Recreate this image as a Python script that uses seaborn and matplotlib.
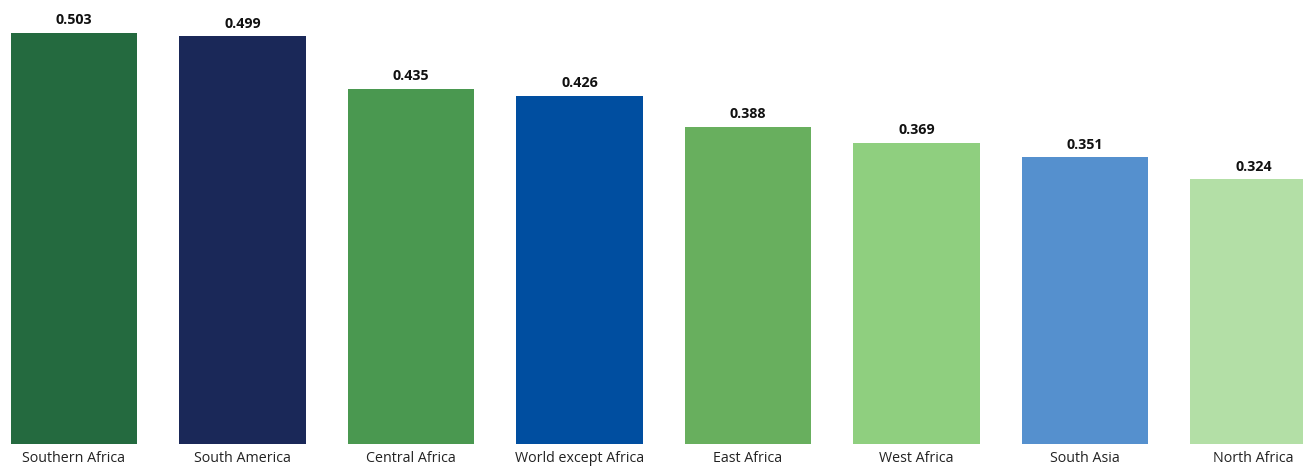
import matplotlib
matplotlib.use("Agg")
import matplotlib.pyplot as plt
import seaborn as sns
import pandas as pd

categories = ["Southern Africa", "South America", "Central Africa", "World except Africa",
              "East Africa", "West Africa", "South Asia", "North Africa"]
values = [0.503, 0.499, 0.435, 0.426, 0.388, 0.369, 0.351, 0.324]
colors = ["#246A3F", "#1A2858", "#4A9850", "#004EA0", "#68AF5E", "#8FCF7F", "#5590CE", "#B3DFA6"]

sns.set_theme(style="white")
plt.rcParams['font.family'] = ['Open Sans', 'DejaVu Sans']

df = pd.DataFrame({"cat": categories, "val": values})

fig = plt.figure(figsize=(13.03, 4.67), dpi=100)
ax = fig.add_axes([0, 23/467, 1, 444/467])
sns.barplot(data=df, x="cat", y="val", hue="cat", palette=colors, legend=False,
            width=0.75, ax=ax, saturation=1, linewidth=0)
ax.set_xlim(-0.439, 7.294)
ax.set_ylim(0, 444/817)
for i, v in enumerate(values):
    ax.annotate(f"{v:.3f}", (i, v), xytext=(0, 4), textcoords="offset points",
                ha="center", va="bottom", fontsize=10.3, fontweight="bold", color="#111111")
ax.set_xlabel("")
ax.set_ylabel("")
ax.set_yticks([])
ax.tick_params(axis="x", length=0, pad=5, labelsize=10.3, labelcolor="#222222")
for s in ax.spines.values():
    s.set_visible(False)
fig.savefig("out.png", dpi=100)
